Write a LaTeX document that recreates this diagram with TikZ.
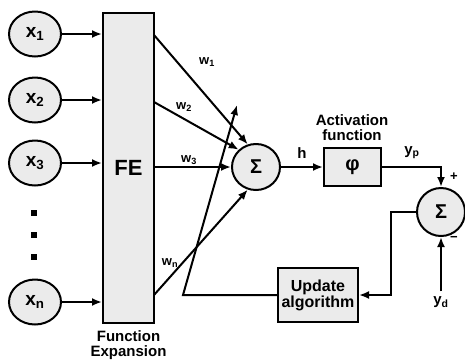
\documentclass[tikz,border=0pt]{standalone}
\usepackage{fontspec}
\setmainfont{Liberation Sans}
\usetikzlibrary{arrows.meta,shapes.geometric}

\tikzset{
  inp/.style={ellipse,draw,fill=black!8,line width=2pt,minimum width=52pt,
    minimum height=45pt,inner sep=0pt,font=\fontsize{19}{19}\selectfont\bfseries},
  blk/.style={rectangle,draw,fill=black!8,line width=2pt,inner sep=0pt},
  lbl/.style={inner sep=0pt,font=\fontsize{15}{15}\selectfont\bfseries},
  wlbl/.style={inner sep=0pt,font=\fontsize{13}{13}\selectfont\bfseries},
  ln/.style={line width=2pt},
  arr/.style={line width=2pt,-{Latex[length=10pt,width=8pt]}}
}

\begin{document}
\begin{tikzpicture}[x=1pt,y=-1pt]
  \useasboundingbox (0,0) rectangle (465,360);
  % --- inputs and function expansion ------------------------------------
  \node[inp] (x1) at (35,34)  {x\textsubscript{1}};
  \node[inp] (x2) at (35,100) {x\textsubscript{2}};
  \node[inp] (x3) at (35,163) {x\textsubscript{3}};
  \node[inp] (xn) at (35,302) {x\textsubscript{n}};
  \foreach \y in {213,235,257}
    \fill (30.5,\y-3) rectangle ++(6,6);
  \node[blk,minimum width=51pt,minimum height=310pt,
        font=\fontsize{22}{22}\selectfont\bfseries] (FE) at (128.5,168) {FE};
  \node[lbl,align=center] (fexp) at (128.5,345) {Function\\Expansion};
  \foreach \n in {x1,x2,x3,xn}
    \draw[arr] (\n.east) -- (\n.east -| FE.west);

  % --- weighted sum -----------------------------------------------------
  \node[inp,minimum width=48pt,minimum height=46pt,
        font=\fontsize{20}{20}\selectfont\bfseries] (sum) at (256,167) {Σ};
  \coordinate (w1s) at (154,35);
  \coordinate (w2s) at (154,102);
  \coordinate (w3s) at (154,167);
  \coordinate (wns) at (154,295);
  \draw[arr] (w1s) -- (sum.110);
  \draw[arr] (w2s) -- (sum.135);
  \draw[arr] (w3s) -- (sum.west);
  \draw[arr] (wns) -- (sum.250);
  \node[wlbl] (w1) at (207,62)  {w\textsubscript{1}};
  \node[wlbl] (w2) at (184,107) {w\textsubscript{2}};
  \node[wlbl] (w3) at (189,160) {w\textsubscript{3}};
  \node[wlbl] (wn) at (170,263) {w\textsubscript{n}};

  % --- activation -------------------------------------------------------
  \node[blk,minimum width=57pt,minimum height=38pt,
        font=\fontsize{20}{20}\selectfont\bfseries] (phi) at (352.5,167) {φ};
  \node[lbl,align=center] (act) at (352,128) {Activation\\function};
  \draw[arr] (sum.east) -- (phi.west);
  \node[lbl] (h) at (302,153) {h};

  % --- error and update -------------------------------------------------
  \node[inp,minimum width=48pt,minimum height=48pt,
        font=\fontsize{20}{20}\selectfont\bfseries] (sum2) at (441,212) {Σ};
  \draw[arr] (phi.east) -| (sum2.north);
  \node[lbl] (yp) at (412,153) {y\textsubscript{p}};
  \node[wlbl] (plus) at (454,177) {+};
  \node[wlbl] (minus) at (454,239) {−};
  \node[lbl] (yd) at (441,302) {y\textsubscript{d}};
  \draw[arr] ([yshift=5pt]yd.north) -- (sum2.south);
  \node[blk,minimum width=80pt,minimum height=54pt,align=center,
        font=\fontsize{16}{16}\selectfont\bfseries] (upd) at (318,295) {Update\\algorithm};
  \draw[arr] (sum2.west) -- ++(-25,0) |- (upd.east);
  \coordinate (ucorner) at (183,295);
  \coordinate (utip) at (237,105);
  \draw[arr] (upd.west) -- (ucorner) -- (utip);
\end{tikzpicture}
\end{document}
